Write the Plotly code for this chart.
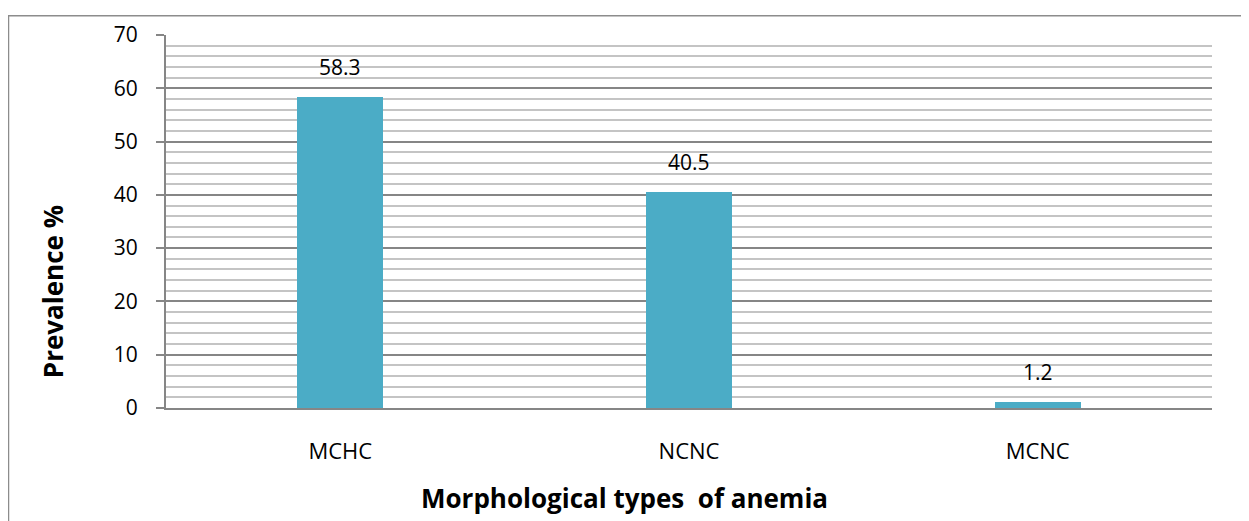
import plotly.graph_objects as go

categories = ["MCHC", "NCNC", "MCNC"]
values = [58.3, 40.5, 1.2]
labels = ["58.3", "40.5", "1.2"]

# figure is placed by the page at (8, 8)
W, H = 1241, 513
L, R, T, B = 158, 37, 20, 113
pw, ph = W - L - R, H - T - B
OFF = 8  # page offset

font = "Open Sans, Liberation Sans, sans-serif"

fig = go.Figure()
fig.add_trace(go.Bar(
    x=categories, y=values, width=0.247,
    marker=dict(color="#4BACC6", line=dict(width=0)),
    hoverinfo="skip",
))

annotations = [
    dict(x=c, y=v, xref="x", yref="y", text=t, showarrow=False, yshift=30,
         xanchor="center", yanchor="middle",
         font=dict(family=font, size=21, color="#000000"))
    for c, v, t in zip(categories, values, labels)
]
annotations.append(dict(
    x=(624 - OFF - L) / pw, y=(H - B - (500 - OFF)) / ph, xref="paper", yref="paper",
    xanchor="center", yanchor="middle",
    text="<b>Morphological types  of anemia</b>", showarrow=False,
    font=dict(family=font, size=26, color="#000000")))
annotations.append(dict(
    x=(53 - OFF - L) / pw, y=(H - B - (290 - OFF)) / ph, xref="paper", yref="paper",
    xanchor="center", yanchor="middle",
    text="<b>Prevalence %</b>", showarrow=False, textangle=-90,
    font=dict(family=font, size=26, color="#000000")))

fig.update_layout(
    width=W, height=H,
    margin=dict(l=L, r=R, t=T, b=B),
    paper_bgcolor="white", plot_bgcolor="white",
    showlegend=False, bargap=0,
    xaxis=dict(
        showgrid=False, showline=True, linecolor="#868686", linewidth=2,
        tickfont=dict(family=font, size=22, color="#000000"),
        ticks="", ticklabelstandoff=23,
        fixedrange=True,
    ),
    yaxis=dict(
        range=[0, 70], tickvals=[0, 10, 20, 30, 40, 50, 60, 70],
        showgrid=True, gridcolor="#868686", gridwidth=1.5,
        minor=dict(dtick=2, showgrid=True, gridcolor="#C4C4C4", gridwidth=1.5),
        showline=True, linecolor="#868686", linewidth=2,
        ticks="outside", ticklen=8, tickcolor="#868686", tickwidth=1.5,
        tickfont=dict(family=font, size=21, color="#000000"),
        ticklabelstandoff=14,
        zeroline=False, fixedrange=True,
    ),
    annotations=annotations,
    shapes=[dict(
        type="rect", xref="paper", yref="paper",
        x0=(0.5 - L) / pw, x1=(W - 1 - L) / pw,
        y0=-0.5, y1=(H - B - 0.5) / ph,
        line=dict(color="#8C8C8C", width=1.5), fillcolor="rgba(0,0,0,0)", layer="below",
    )],
)

fig.write_html("out.html")
